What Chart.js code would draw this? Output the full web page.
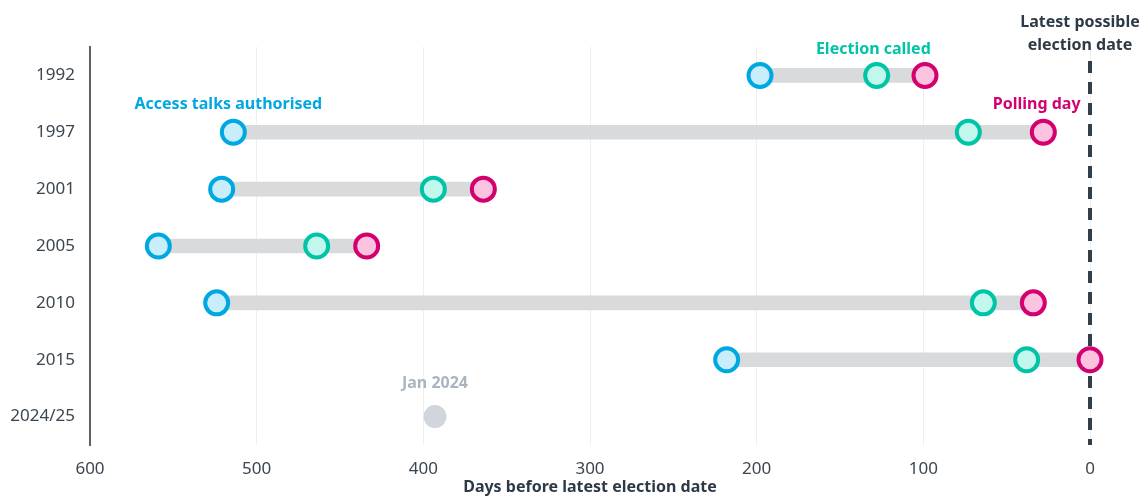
<!DOCTYPE html>
<html>
<head>
<meta charset="utf-8">
<script src="https://cdn.jsdelivr.net/npm/chart.js@4"></script>
<style>
  html, body { margin: 0; padding: 0; background: #fff; }
  #wrap { width: 1142px; height: 497px; }
</style>
</head>
<body>
<div id="wrap"><canvas id="myChart"></canvas></div>
<script>
const years = ['1992', '1997', '2001', '2005', '2010', '2015', '2024/25'];
const accessTalks = [198, 514, 521, 559, 524, 218, null];
const electionCalled = [128, 73, 394, 464, 64, 38, null];
const pollingDay = [99, 28, 364, 434, 34, 0, null];
const current = [null, null, null, null, null, null, 393];
const xTicks = [600, 500, 400, 300, 200, 100, 0];

const FONT = '"Noto Sans", sans-serif';

const toPoints = arr => arr.map((v, i) => v === null ? null : { x: v, y: years[i] }).filter(p => p);

// dashed "latest possible" line under the marks, text labels on top
const extras = {
    id: 'extras',
    beforeDatasetsDraw(chart) {
        const { ctx, scales: { x }, chartArea } = chart;
        ctx.save();
        const x0 = x.getPixelForValue(0);
        ctx.strokeStyle = '#333f48';
        ctx.lineWidth = 4;
        ctx.setLineDash([12, 9]);
        ctx.beginPath();
        ctx.moveTo(x0, 61);
        ctx.lineTo(x0, chartArea.bottom);
        ctx.stroke();
        ctx.restore();
    },
    afterDatasetsDraw(chart) {
        const { ctx, scales: { x } } = chart;
        ctx.save();
        ctx.textAlign = 'center';
        ctx.textBaseline = 'middle';
        ctx.font = 'bold 16px ' + FONT;
        const label = (txt, val, py, color) => {
            ctx.fillStyle = color;
            ctx.fillText(txt, x.getPixelForValue(val), py);
        };
        label('Election called', 130, 49, '#00c4a7');
        label('Access talks authorised', 517, 104, '#00a8e1');
        label('Polling day', 32, 104, '#d3006f');
        label('Latest possible', 6, 22, '#2d3a45');
        label('election date', 6, 45, '#2d3a45');
        label('Jan 2024', 393, 383, '#a9b6c2');
        ctx.restore();
    }
};

const dot = (label, values, border, fill, order) => ({
    type: 'line',
    label: label,
    data: toPoints(values),
    showLine: false,
    clip: false,
    pointRadius: 11.5,
    pointBorderWidth: border === fill ? 0 : 4,
    borderColor: border,
    backgroundColor: fill,
    order: order
});

const ctx = document.getElementById('myChart');
const myChart = new Chart(ctx, {
    type: 'bar',
    data: {
        labels: years,
        datasets: [
            dot('Polling day', pollingDay, '#d3006f', '#fbc3df', 1),
            dot('Election called', electionCalled, '#00c4a7', '#c2f7ee', 2),
            dot('Access talks authorised', accessTalks, '#00a8e1', '#c9eefb', 3),
            dot('Jan 2024', current, '#d0d6dc', '#d0d6dc', 4),
            {
                label: 'Span',
                data: years.map((_, i) => accessTalks[i] === null ? null : [pollingDay[i], accessTalks[i]]),
                backgroundColor: '#d9dadc',
                barThickness: 14,
                borderSkipped: false,
                order: 10
            }
        ]
    },
    options: {
        indexAxis: 'y',
        responsive: true,
        maintainAspectRatio: false,
        animation: false,
        layout: { padding: { top: 47, right: 52, left: 0, bottom: 0 } },
        plugins: {
            legend: { display: false },
            tooltip: { enabled: false }
        },
        scales: {
            x: {
                type: 'linear',
                min: 0,
                max: 600,
                reverse: true,
                afterBuildTicks: scale => { scale.ticks = xTicks.map(v => ({ value: v })); },
                grid: { color: '#eeeeee', lineWidth: 1, drawTicks: false },
                border: { display: false },
                ticks: { padding: 14, color: '#3c4650', font: { family: FONT, size: 17 } },
                title: {
                    display: true,
                    text: 'Days before latest election date',
                    color: '#2d3a45',
                    padding: { top: 0, bottom: 0 },
                    font: { family: FONT, size: 16, weight: 'bold' }
                },
                afterFit: scale => { scale.height = 52; }
            },
            y: {
                type: 'category',
                offset: true,
                grid: { display: false },
                border: { display: true, color: '#5a6168', width: 2 },
                ticks: { padding: 7, color: '#3c4650', font: { family: FONT, size: 17 } },
                afterFit: scale => { scale.width = 90; }
            }
        }
    },
    plugins: [extras]
});
</script>
</body>
</html>
